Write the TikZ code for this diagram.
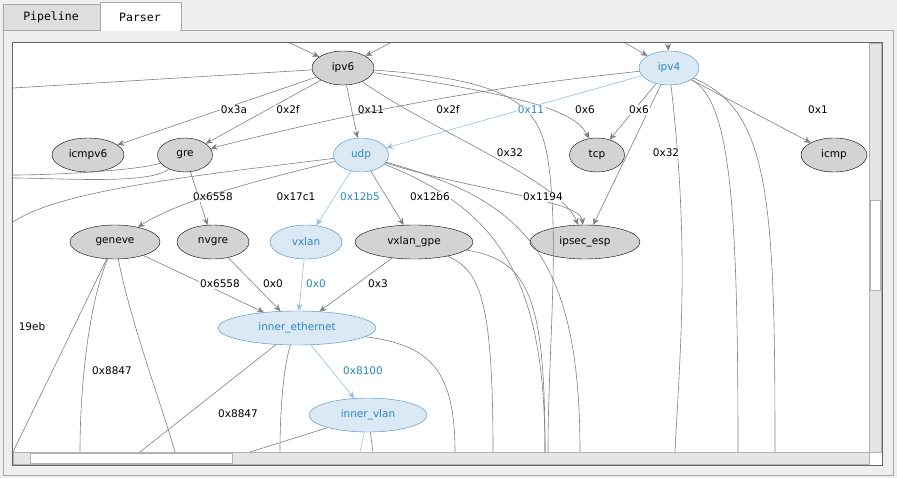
\documentclass[tikz,border=0pt]{standalone}
\usepackage{fontspec}
\setmainfont{DejaVu Sans}
\setmonofont{DejaVu Sans Mono}
\usetikzlibrary{arrows.meta,positioning,shapes.geometric}
\definecolor{winbg}{RGB}{239,239,239}
\definecolor{graynode}{RGB}{211,211,211}
\definecolor{bluefill}{RGB}{219,233,245}
\definecolor{blueline}{RGB}{58,143,208}
\definecolor{bluetext}{RGB}{42,134,200}
\definecolor{blueedge}{RGB}{147,192,228}
\definecolor{grayedge}{RGB}{128,128,128}

\tikzset{
  pnode/.style={ellipse,draw=black,fill=graynode,minimum height=34pt,inner sep=1pt,font=\fontsize{10.5}{12}\selectfont},
  hnode/.style={pnode,draw=blueline,fill=bluefill,text=bluetext},
  edge/.style={draw=grayedge,-{Stealth[length=7pt,width=6pt]},line width=0.6pt},
  hedge/.style={edge,draw=blueedge},
  lbl/.style={font=\fontsize{10.5}{12}\selectfont,fill=white,inner sep=1pt},
  hlbl/.style={lbl,text=bluetext},
  tab/.style={draw=gray!70,inner sep=0pt},
  tabtext/.style={font=\ttfamily\fontsize{11.5}{13}\selectfont},
}

\begin{document}
\begin{tikzpicture}[x=1pt,y=-1pt]
  \useasboundingbox (0,0) rectangle (897,478);
  \fill[winbg] (0,0) rectangle (897,478);

  % tabs and frames
  \draw[gray!70] (3,30) rectangle (893,475);
  \filldraw[tab,fill=winbg!85!gray] (3,4) rectangle (100,30);
  \node[tabtext] (tabpipe) at (51,17) {Pipeline};
  \filldraw[tab,fill=white] (100,2) rectangle (181,30);
  \draw[white,line width=1.2pt] (101,30) -- (180,30);
  \node[tabtext] (tabparse) at (140,17) {Parser};
  \filldraw[draw=gray!80!black,fill=white] (12,42) rectangle (882,465);

  % scrollbars
  \filldraw[draw=gray!60,fill=gray!20] (869,43) rectangle (881,452);
  \filldraw[draw=gray!60,fill=white] (870,200) rectangle (880,290);
  \filldraw[draw=gray!60,fill=gray!20] (13,452) rectangle (869,464);
  \filldraw[draw=gray!60,fill=white] (30,453) rectangle (232,463);

  \begin{scope}
  \clip (13,43) rectangle (869,452);

  % nodes
  \node[pnode,minimum width=62pt] (ipv6) at (343,68) {ipv6};
  \node[hnode,minimum width=60pt] (ipv4) at (669,68) {ipv4};
  \node[pnode,minimum width=72pt] (icmpv6) at (88,155) {icmpv6};
  \node[pnode,minimum width=55pt] (gre) at (185,155) {gre};
  \node[hnode,minimum width=55pt] (udp) at (361,155) {udp};
  \node[pnode,minimum width=55pt] (tcp) at (597,155) {tcp};
  \node[pnode,minimum width=66pt] (icmp) at (834,155) {icmp};
  \node[pnode,minimum width=90pt] (geneve) at (115,242) {geneve};
  \node[pnode,minimum width=72pt] (nvgre) at (213,242) {nvgre};
  \node[hnode,minimum width=72pt] (vxlan) at (306,242) {vxlan};
  \node[pnode,minimum width=118pt] (vxlangpe) at (414,242) {vxlan\_gpe};
  \node[pnode,minimum width=110pt] (ipsec) at (585,242) {ipsec\_esp};
  \node[hnode,minimum width=158pt] (inner) at (297,328) {inner\_ethernet};
  \node[hnode,minimum width=118pt] (vlan) at (368,415) {inner\_vlan};

  % free ends
  \coordinate (t1) at (290,43); \coordinate (t2) at (390,43);
  \coordinate (t3) at (625,43); \coordinate (t4) at (668,43);

  % edges from above
  \draw[edge] (t1) -- (ipv6);
  \draw[edge] (t2) -- (ipv6);
  \draw[edge] (t3) -- (ipv4);
  \draw[edge] (t4) -- (ipv4);

  % ipv6
  \draw[edge] (ipv6) -- (icmpv6);
  \draw[edge] (ipv6) -- (gre);
  \draw[edge] (ipv6) -- (udp);
  \draw[edge] (ipv6) .. controls (520,95) and (575,110) .. (tcp);
  \draw[edge] (ipv6) .. controls (430,130) and (560,180) .. (ipsec);
  \draw[grayedge,line width=0.6pt] (ipv6) -- (13,88);
  \draw[grayedge,line width=0.6pt] (ipv6) .. controls (520,80) and (540,110) .. (548,160) .. controls (560,240) and (548,350) .. (548,452);
  \node[lbl] (l1) at (234,110) {0x3a};
  \node[lbl] (l2) at (288,110) {0x2f};
  \node[lbl] (l3) at (371,110) {0x11};
  \node[lbl] (l4) at (585,110) {0x6};
  \node[lbl] (l5) at (510,153) {0x32};

  % ipv4
  \draw[hedge] (ipv4) -- (udp);
  \draw[edge] (ipv4) .. controls (560,80) and (420,95) .. (gre);
  \draw[edge] (ipv4) -- (tcp);
  \draw[edge] (ipv4) -- (ipsec);
  \draw[edge] (ipv4) -- (icmp);
  \draw[grayedge,line width=0.6pt] (ipv4) .. controls (730,100) and (738,200) .. (738,452);
  \draw[grayedge,line width=0.6pt] (ipv4) .. controls (770,110) and (775,200) .. (775,452);
  \draw[grayedge,line width=0.6pt] (ipv4) .. controls (690,250) and (680,350) .. (675,452);
  \node[hlbl] (l6) at (531,110) {0x11};
  \node[lbl] (l7) at (448,110) {0x2f};
  \node[lbl] (l8) at (639,110) {0x6};
  \node[lbl] (l9) at (666,153) {0x32};
  \node[lbl] (l10) at (818,110) {0x1};

  % gre
  \draw[edge] (gre) -- (nvgre);
  \draw[grayedge,line width=0.6pt] (gre) .. controls (150,185) and (60,178) .. (13,178);
  \draw[grayedge,line width=0.6pt] (gre) .. controls (140,170) and (60,175) .. (13,175);
  \node[lbl] (l11) at (213,197) {0x6558};

  % udp
  \draw[edge] (udp) .. controls (260,180) and (180,200) .. (geneve);
  \draw[hedge] (udp) -- (vxlan);
  \draw[edge] (udp) -- (vxlangpe);
  \draw[edge] (udp) .. controls (470,190) and (580,200) .. (ipsec);
  \draw[grayedge,line width=0.6pt] (udp) .. controls (200,175) and (60,190) .. (13,222);
  \draw[grayedge,line width=0.6pt] (udp) .. controls (520,200) and (580,250) .. (580,452);
  \draw[grayedge,line width=0.6pt] (udp) .. controls (500,210) and (545,280) .. (545,452);
  \node[lbl] (l12) at (296,197) {0x17c1};
  \node[hlbl] (l13) at (360,197) {0x12b5};
  \node[lbl] (l14) at (430,197) {0x12b6};
  \node[lbl] (l15) at (543,197) {0x1194};

  % tunnels to inner ethernet
  \draw[edge] (geneve) -- (inner);
  \draw[edge] (nvgre) -- (inner);
  \draw[hedge] (vxlan) -- (inner);
  \draw[edge] (vxlangpe) -- (inner);
  \draw[grayedge,line width=0.6pt] (vxlangpe) .. controls (480,270) and (493,300) .. (493,452);
  \draw[grayedge,line width=0.6pt] (vxlangpe) .. controls (530,260) and (545,300) .. (545,452);
  \node[lbl] (l16) at (220,284) {0x6558};
  \node[lbl] (l17) at (273,284) {0x0};
  \node[hlbl] (l18) at (316,284) {0x0};
  \node[lbl] (l19) at (378,284) {0x3};

  % geneve down
  \draw[grayedge,line width=0.6pt] (geneve) -- (13,452);
  \draw[grayedge,line width=0.6pt] (geneve) .. controls (90,300) and (80,380) .. (80,452);
  \draw[grayedge,line width=0.6pt] (geneve) .. controls (130,320) and (160,400) .. (175,452);
  \node[lbl] (l20) at (112,371) {0x8847};
  \node[lbl] (l21) at (32,327) {19eb};

  % inner ethernet
  \draw[hedge] (inner) -- (vlan);
  \draw[grayedge,line width=0.6pt] (inner) -- (140,452);
  \draw[grayedge,line width=0.6pt] (inner) .. controls (285,360) and (280,400) .. (280,452);
  \draw[grayedge,line width=0.6pt] (inner) .. controls (430,345) and (455,370) .. (455,452);
  \node[hlbl] (l22) at (363,371) {0x8100};
  \node[lbl] (l23) at (238,414) {0x8847};

  % inner vlan
  \draw[blueedge,line width=0.6pt] (vlan) -- (360,452);
  \draw[grayedge,line width=0.6pt] (vlan) -- (373,452);
  \draw[grayedge,line width=0.6pt] (vlan) -- (250,452);
  \end{scope}
\end{tikzpicture}
\end{document}
